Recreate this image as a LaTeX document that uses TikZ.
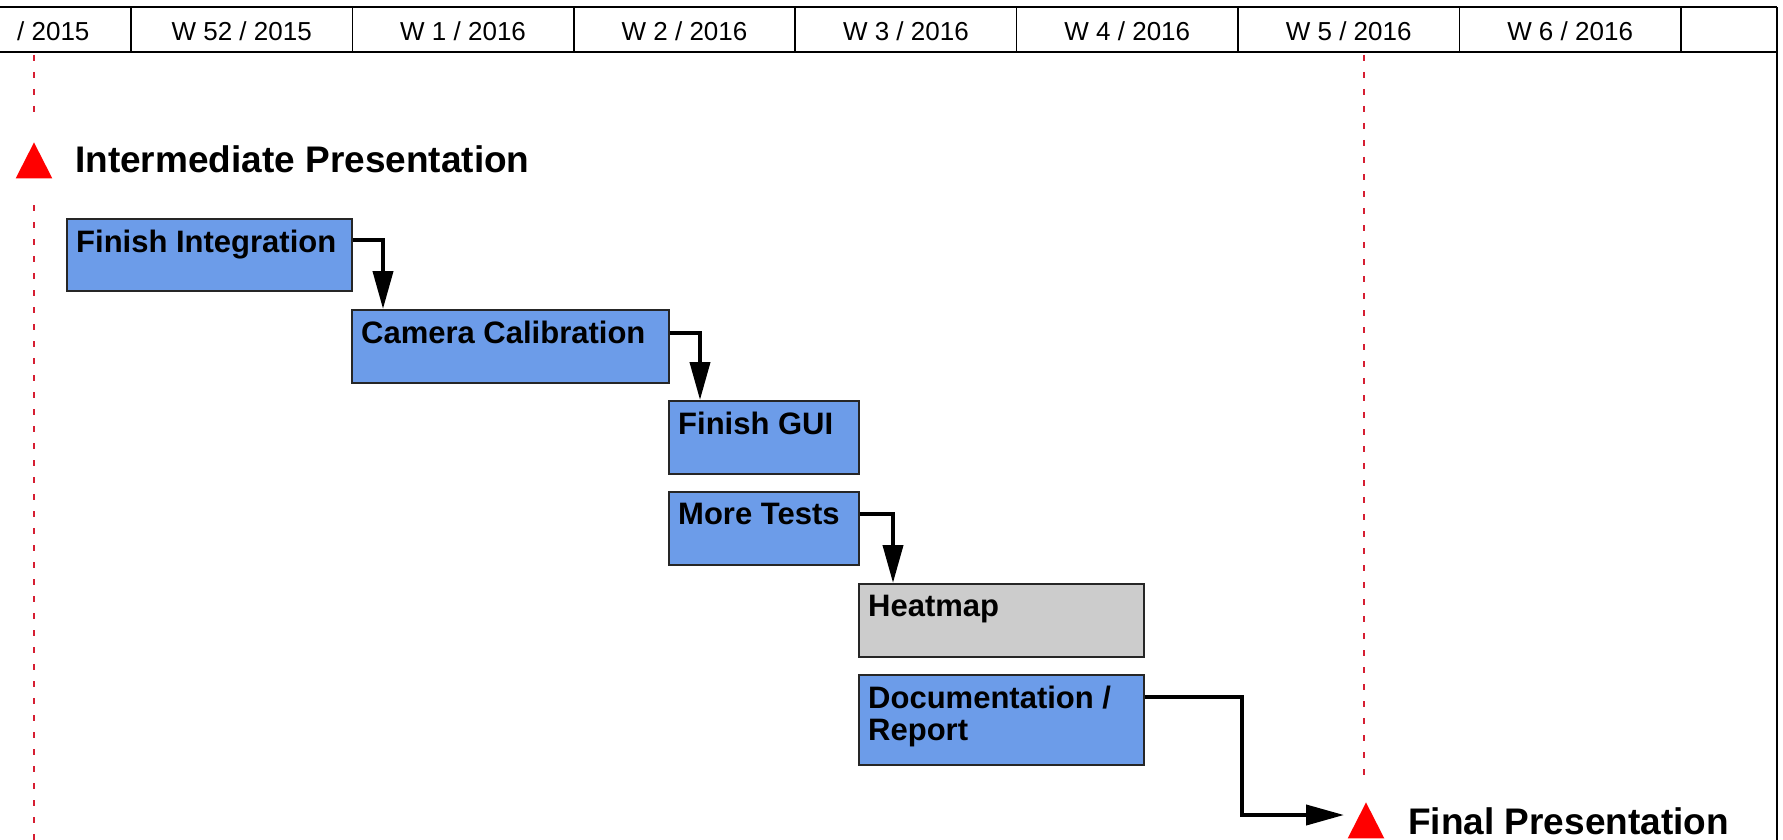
\documentclass[tikz,border=0pt]{standalone}
\usepackage{fontspec}
\setmainfont{Liberation Sans}
\usetikzlibrary{arrows.meta,shapes.geometric}

\definecolor{taskblue}{RGB}{108,156,233}
\definecolor{taskgray}{RGB}{204,204,204}
\definecolor{deadred}{RGB}{214,30,50}

\tikzset{
  weeklabel/.style={anchor=base, inner sep=0pt, font=\fontsize{26}{30}\selectfont},
  task/.style={draw=black!85, line width=1.5pt, fill=taskblue, anchor=north west, inner sep=0pt},
  tasktext/.style={anchor=north west, align=left, inner sep=0pt, font=\bfseries\fontsize{31}{32}\selectfont},
  mstri/.style={isosceles triangle, isosceles triangle apex angle=54, shape border rotate=90, fill=red, inner sep=0pt, minimum size=36pt, anchor=apex},
  mstext/.style={anchor=base west, inner sep=0pt, font=\bfseries\fontsize{37}{40}\selectfont},
  dep/.style={line width=4pt, -{Triangle[width=20pt,length=38pt]}},
  deadline/.style={deadred, line width=2pt, dash pattern=on 6pt off 11pt}
}

\begin{document}
\begin{tikzpicture}[x=1pt,y=-1pt]
\useasboundingbox (0,0) rectangle (1783,840);
\def\wk{221.4}

% week header
\draw[line width=2pt] (0,7) -- (1777,7);
\draw[line width=2pt] (0,52) -- (1777,52);
\draw[line width=2pt] (1777,7) -- (1777,840);
\draw[line width=1.5pt] (131,7) -- (131,52);
\draw[line width=1.5pt] (131+\wk,7) -- (131+\wk,52);
\draw[line width=1.5pt] (131+2*\wk,7) -- (131+2*\wk,52);
\draw[line width=1.5pt] (131+3*\wk,7) -- (131+3*\wk,52);
\draw[line width=1.5pt] (131+4*\wk,7) -- (131+4*\wk,52);
\draw[line width=1.5pt] (131+5*\wk,7) -- (131+5*\wk,52);
\draw[line width=1.5pt] (131+6*\wk,7) -- (131+6*\wk,52);
\draw[line width=1.5pt] (131+7*\wk,7) -- (131+7*\wk,52);
\node[weeklabel,anchor=base west] (w51) at (17,41) {/ 2015};
\node[weeklabel] (w52) at (131+0.5*\wk,41) {W 52 / 2015};
\node[weeklabel] (w1) at (131+1.5*\wk,41) {W 1 / 2016};
\node[weeklabel] (w2) at (131+2.5*\wk,41) {W 2 / 2016};
\node[weeklabel] (w3) at (131+3.5*\wk,41) {W 3 / 2016};
\node[weeklabel] (w4) at (131+4.5*\wk,41) {W 4 / 2016};
\node[weeklabel] (w5) at (131+5.5*\wk,41) {W 5 / 2016};
\node[weeklabel] (w6) at (131+6.5*\wk,41) {W 6 / 2016};

% deadlines
\draw[deadline] (34,55) -- (34,120);
\draw[deadline] (34,205) -- (34,840);
\draw[deadline] (1364,55) -- (1364,785);

% milestones
\node[mstri] (ms1tri) at (34,142) {};
\node[mstext] (ms1) at (75,172) {Intermediate Presentation};
\node[mstri] (ms2tri) at (1366,802) {};
\node[mstext] (ms2) at (1408,834) {Final Presentation};

% tasks
\node[task, minimum width=285pt, minimum height=72pt] (integ) at (66,218) {};
\node[tasktext] (integtxt) at ([shift={(10pt,-12pt)}]integ.north west) {Finish Integration};
\node[task, minimum width=317pt, minimum height=73pt] (camera) at (351,309) {};
\node[tasktext] (cameratxt) at ([shift={(10pt,-12pt)}]camera.north west) {Camera Calibration};
\node[task, minimum width=190pt, minimum height=73pt] (gui) at (668,400) {};
\node[tasktext] (guitxt) at ([shift={(10pt,-12pt)}]gui.north west) {Finish GUI};
\node[task, minimum width=190pt, minimum height=73pt] (tests) at (668,491) {};
\node[tasktext] (teststxt) at ([shift={(10pt,-12pt)}]tests.north west) {More Tests};
\node[task, fill=taskgray, minimum width=285pt, minimum height=73pt] (heatmap) at (858,583) {};
\node[tasktext] (heatmaptxt) at ([shift={(10pt,-12pt)}]heatmap.north west) {Heatmap};
\node[task, minimum width=285pt, minimum height=90pt] (doc) at (858,674) {};
\node[tasktext] (doctxt) at ([shift={(10pt,-12pt)}]doc.north west) {Documentation /\\Report};

% dependencies
\draw[dep] ([yshift=-22pt]integ.north east) -| ([xshift=32pt]camera.north west);
\draw[dep] ([yshift=-24pt]camera.north east) -| ([xshift=32pt]gui.north west);
\draw[dep] ([yshift=-23pt]tests.north east) -| ([xshift=35pt]heatmap.north west);
\draw[dep] ([yshift=-23pt]doc.north east) -- ++(97pt,0) |- ([shift={(-22pt,-13pt)}]ms2tri.apex);
\end{tikzpicture}
\end{document}
